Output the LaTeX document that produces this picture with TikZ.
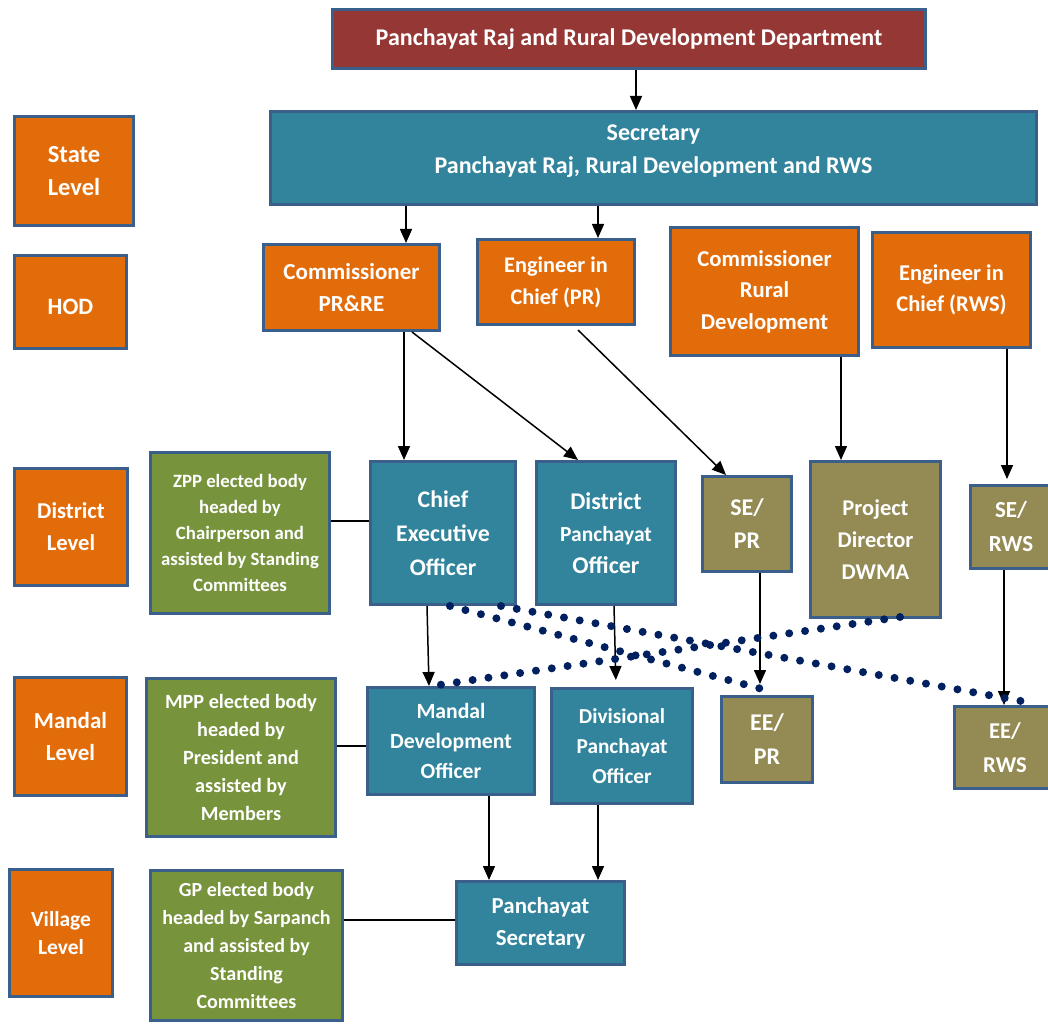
\documentclass[tikz,border=0pt]{standalone}
\usepackage{fontspec}
\setmainfont{Carlito}
\usetikzlibrary{arrows.meta}
\definecolor{bordc}{HTML}{3A5F8B}
\definecolor{dred}{HTML}{953735}
\definecolor{teal}{HTML}{31849B}
\definecolor{orng}{HTML}{E36C0A}
\definecolor{grn}{HTML}{77933C}
\definecolor{khak}{HTML}{948A54}
\definecolor{navy}{HTML}{002060}
\newcommand\fsz[2]{\fontsize{#1}{#2}\selectfont}
\tikzset{
  box/.style={draw=bordc, line width=3pt, text=white, align=center, inner sep=0pt},
  fnt/.style 2 args={font=\bfseries\fsz{#1}{#2}},
  sz/.style 2 args={minimum width=#1, minimum height=#2},
  arr/.style={line width=1.5pt, -{Triangle[width=12pt,length=14pt]}},
  ln/.style={line width=1.5pt},
  dots/.style={navy, line width=8pt, line cap=round, dash pattern=on 0pt off 16pt},
}
\begin{document}
\begin{tikzpicture}[x=1pt,y=-1pt]
\clip (0,0) rectangle (1048,1024);
\fill[white] (0,0) rectangle (1048,1024);
% boxes
\node[box, fnt={24}{33}, fill=dred, sz={593pt}{59pt}] (dept) at (629,39) {Panchayat Raj and Rural Development Department};
\node[box, fnt={24}{33}, fill=teal, sz={766pt}{93pt}, text depth=17pt] (sec) at (653.5,158) {Secretary\\Panchayat Raj, Rural Development and RWS};
\node[box, fnt={24.5}{33}, fill=orng, sz={119pt}{109pt}] (state) at (74,171) {State\\Level};
\node[box, fnt={23.5}{33}, fill=orng, sz={112pt}{93pt}, text height=25pt] (hod) at (70.5,302) {HOD};
\node[box, fnt={23}{32}, fill=orng, sz={176pt}{86pt}] (comm) at (351.5,287.5) {Commissioner\\PR\&RE};
\node[box, fnt={22.3}{32}, fill=orng, sz={157pt}{85pt}] (eicpr) at (556,282) {Engineer in\\Chief (PR)};
\node[box, fnt={22.7}{31.5}, fill=orng, sz={188pt}{128pt}] (commrd) at (764.5,291.5) {Commissioner\\Rural\\Development};
\node[box, fnt={22.5}{31.5}, fill=orng, sz={158pt}{115pt}] (eicrws) at (951.5,290) {Engineer in\\Chief (RWS)};
\node[box, fnt={22.7}{32}, fill=orng, sz={113pt}{117pt}] (dist) at (71,527) {District\\Level};
\node[box, fnt={18.8}{26}, fill=grn, sz={179pt}{161pt}] (zpp) at (240,533) {ZPP elected body\\headed by\\Chairperson and\\assisted by Standing\\Committees};
\node[box, fnt={23.8}{34}, fill=teal, sz={145pt}{143pt}] (ceo) at (443,533) {Chief\\Executive\\Officer};
\node[box, fnt={24}{32}, fill=teal, sz={139pt}{143pt}] (dpo) at (606,533) {District\\{\fsz{21.5}{32}Panchayat}\\Officer};
\node[box, fnt={24}{33}, fill=khak, sz={89pt}{95pt}] (sepr) at (747,524) {SE/\\PR};
\node[box, fnt={22.5}{32}, fill=khak, sz={130pt}{156pt}] (pd) at (875.5,539.5) {Project\\Director\\DWMA};
\node[box, fnt={23}{34}, fill=khak, sz={81pt}{83pt}] (serws) at (1011,527) {SE/\\RWS};
\node[box, fnt={23}{32}, fill=orng, sz={112pt}{118pt}] (mandal) at (70.5,736.5) {Mandal\\Level};
\node[box, fnt={20.2}{28}, fill=grn, sz={189pt}{158pt}] (mpp) at (241,757.5) {MPP elected body\\headed by\\President and\\assisted by\\Members};
\node[box, fnt={21.7}{30}, fill=teal, sz={167pt}{107pt}] (mdo) at (451,741) {Mandal\\Development\\Officer};
\node[box, fnt={21.3}{30}, fill=teal, sz={141pt}{115pt}] (divpo) at (622,746) {Divisional\\Panchayat\\Officer};
\node[box, fnt={24}{34}, fill=khak, sz={91pt}{86pt}] (eepr) at (767,739.5) {EE/\\PR};
\node[box, fnt={22.6}{34}, fill=khak, sz={101pt}{82pt}] (eerws) at (1005,747.5) {EE/\\RWS};
\node[box, fnt={21.5}{28}, fill=orng, sz={103pt}{127pt}] (village) at (61,933) {Village\\Level};
\node[box, fnt={20}{28}, fill=grn, sz={192pt}{150pt}] (gp) at (246.5,945.5) {GP elected body\\headed by Sarpanch\\and assisted by\\Standing\\Committees};
\node[box, fnt={22.9}{32}, fill=teal, sz={168pt}{83pt}] (ps) at (540.5,923) {Panchayat\\Secretary};
% arrows
\draw[arr] ([xshift=7pt]dept.south) -- ([xshift=7pt]dept.south |- sec.north);
\draw[arr] ([xshift=54.5pt]comm.north |- sec.south) -- ([xshift=54.5pt]comm.north);
\draw[arr] ([xshift=42pt]eicpr.north |- sec.south) -- ([xshift=42pt]eicpr.north);
\draw[arr] ([xshift=52.5pt]comm.south) -- ([xshift=-39pt]ceo.north);
\draw[arr] ([xshift=60.5pt]comm.south) -- ([xshift=-28pt]dpo.north);
\draw[arr] ([xshift=22pt,yshift=-4pt]eicpr.south) -- ([xshift=-21pt]sepr.north);
\draw[arr] ([xshift=-34.5pt]pd.north |- commrd.south) -- ([xshift=-34.5pt]pd.north);
\draw[arr, shorten >=5pt] ([xshift=-4pt]serws.north |- eicrws.south) -- ([xshift=-4pt]serws.north);
\draw[arr] ([xshift=-16pt]ceo.south) -- ([xshift=-22pt]mdo.north);
\draw[arr, shorten >=7pt] ([xshift=8pt]dpo.south) -- ([xshift=-6pt]divpo.north);
\draw[arr, shorten >=11pt] ([xshift=13pt]sepr.south) -- ([xshift=-7pt]eepr.north);
\draw[arr] ([xshift=-1pt]eerws.north |- serws.south) -- ([xshift=-1pt]eerws.north);
\draw[arr] ([xshift=-51.5pt]ps.north |- mdo.south) -- ([xshift=-51.5pt]ps.north);
\draw[arr] ([xshift=57.5pt]ps.north |- divpo.south) -- ([xshift=57.5pt]ps.north);
% plain links
\draw[ln] ([yshift=12pt]zpp.east) -- ([yshift=12pt]zpp.east -| ceo.west);
\draw[ln] ([yshift=11.5pt]mpp.east) -- ([yshift=11.5pt]mpp.east -| mdo.west);
\draw[ln] ([yshift=25.5pt]gp.east) -- ([yshift=25.5pt]gp.east -| ps.west);
% dotted links
\draw[dots] ([xshift=7pt]ceo.south) -- ([xshift=-5pt,yshift=6pt]eepr.north);
\draw[dots] ([xshift=58pt]ceo.south) -- ([xshift=16pt,yshift=4pt]eerws.north);
\draw[dots] ([xshift=24.5pt,yshift=2pt]pd.south) -- ([xshift=-19pt]mdo.north);
\end{tikzpicture}
\end{document}
